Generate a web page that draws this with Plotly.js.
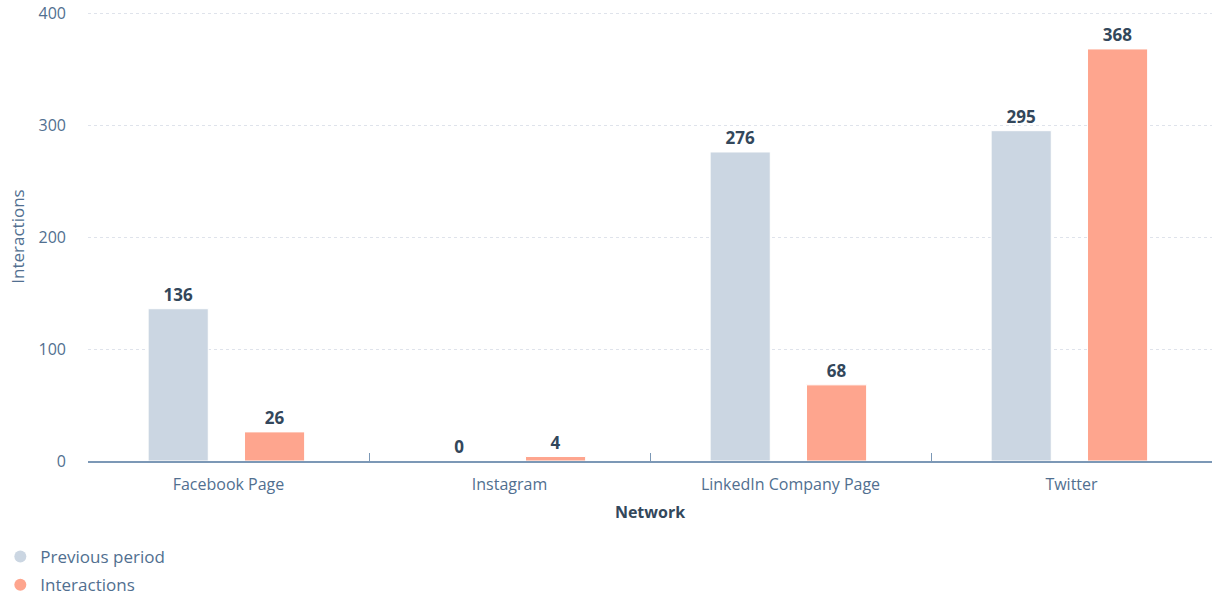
<!DOCTYPE html>
<html>
<head>
<meta charset="utf-8">
<script src="https://cdn.plot.ly/plotly-3.0.1.min.js"></script>
<style>html,body{margin:0;padding:0;background:#fff;}#chart{width:1212px;height:603px;}</style>
</head>
<body>
<div id="chart"></div>
<script>
const categories = ["Facebook Page", "Instagram", "LinkedIn Company Page", "Twitter"];
const previousPeriod = [136, 0, 276, 295];
const interactions = [26, 4, 68, 368];
const seriesNames = ["Previous period", "Interactions"];
const yTicks = [0, 100, 200, 300, 400];

const colors = ["#cbd6e2", "#fea58e"];
const font = "'Open Sans', Lato, sans-serif";
const barWidth = 0.214;
const offsets = [-0.286, 0.057];

const labelFont = {family: font, size: 17, color: "#33475b", weight: "bold"};

const traces = [
  {
    type: "bar", x: categories, y: previousPeriod, name: seriesNames[0],
    width: barWidth, offset: offsets[0],
    marker: {color: colors[0], line: {color: "#ffffff", width: 1}},
    text: previousPeriod.map(String), textposition: "outside", cliponaxis: false,
    textfont: labelFont, showlegend: false
  },
  {
    type: "bar", x: categories, y: interactions, name: seriesNames[1],
    width: barWidth, offset: offsets[1],
    marker: {color: colors[1], line: {color: "#ffffff", width: 1}},
    text: interactions.map(String), textposition: "outside", cliponaxis: false,
    textfont: labelFont, showlegend: false
  },
  {
    type: "scatter", mode: "markers", x: [null], y: [null], name: seriesNames[0],
    legendgroup: "a", marker: {color: colors[0], size: 12, symbol: "circle"}, showlegend: true
  },
  {
    type: "scatter", mode: "markers", x: [null], y: [null], name: seriesNames[1],
    legendgroup: "b", marker: {color: colors[1], size: 12, symbol: "circle"}, showlegend: true
  }
];

const layout = {
  width: 1212, height: 603,
  margin: {l: 88, r: 0, t: 12, b: 141},
  paper_bgcolor: "#ffffff", plot_bgcolor: "#ffffff",
  font: {family: font, color: "#516f90", size: 16},
  barmode: "overlay",
  xaxis: {
    type: "category", categoryorder: "array", categoryarray: categories,
    showline: true, linecolor: "#7c98b6", linewidth: 2,
    ticks: "inside", tickson: "boundaries", ticklen: 8, tickcolor: "#7c98b6", tickwidth: 1,
    tickfont: {family: font, size: 16, color: "#516f90"},
    ticklabelstandoff: 8,
    showgrid: false, zeroline: false,
    title: {text: "Network", font: {family: font, size: 16, color: "#33475b", weight: "bold"}, standoff: 13},
    automargin: false
  },
  yaxis: {
    range: [0, 401], tickvals: yTicks, ticktext: yTicks.map(String),
    showgrid: true, gridcolor: "#dfe3eb", griddash: "3px,3px", gridwidth: 1,
    zeroline: false, showline: false, ticks: "",
    ticklabelstandoff: 21,
    tickfont: {family: font, size: 16, color: "#516f90"},
    title: {text: "Interactions", font: {family: font, size: 17, color: "#516f90"}, standoff: 9},
    automargin: false
  },
  legend: {
    x: -0.078, xanchor: "left", y: -0.173, yanchor: "top", orientation: "v",
    font: {family: font, size: 17, color: "#516f90"},
    itemwidth: 30, traceorder: "grouped", tracegroupgap: 3, bgcolor: "rgba(0,0,0,0)"
  },
  showlegend: true
};

Plotly.newPlot("chart", traces, layout, {displayModeBar: false, staticPlot: true});
</script>
</body>
</html>
